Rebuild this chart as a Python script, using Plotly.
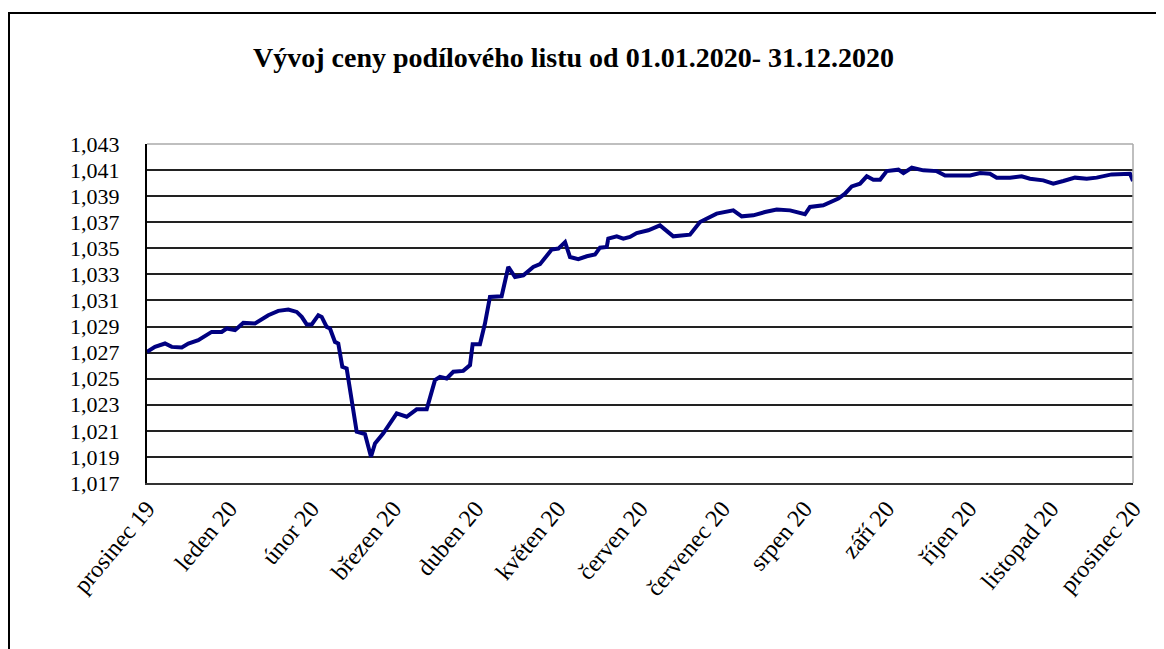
import plotly.graph_objects as go

# month position (0 = prosinec 19, 12 = prosinec 20) and unit price
months = [
    0.0, 0.097, 0.219, 0.301, 0.423, 0.503, 0.624, 0.787, 0.909, 0.970,
    1.071, 1.172, 1.314, 1.476, 1.598, 1.720, 1.822, 1.883, 1.944, 2.005,
    2.085, 2.126, 2.187, 2.227, 2.288, 2.328, 2.377, 2.430, 2.552, 2.653,
    2.726, 2.775, 2.876, 2.978, 3.039, 3.160, 3.282, 3.404, 3.505, 3.566,
    3.647, 3.728, 3.849, 3.931, 3.963, 4.052, 4.113, 4.174, 4.316, 4.397,
    4.479, 4.580, 4.701, 4.783, 4.925, 5.006, 5.088, 5.148, 5.249, 5.352,
    5.452, 5.513, 5.595, 5.614, 5.717, 5.797, 5.878, 5.960, 6.101, 6.243,
    6.405, 6.608, 6.730, 6.933, 7.135, 7.238, 7.379, 7.521, 7.664, 7.826,
    8.008, 8.069, 8.231, 8.414, 8.495, 8.577, 8.678, 8.760, 8.840, 8.922,
    9.003, 9.145, 9.206, 9.308, 9.449, 9.612, 9.713, 9.856, 10.018, 10.140,
    10.259, 10.341, 10.503, 10.645, 10.746, 10.908, 11.030, 11.152, 11.294, 11.437,
    11.558, 11.740, 11.882, 11.964, 12.0,
]
prices = [
    1.02706, 1.02744, 1.02770, 1.02744, 1.02740, 1.02770, 1.02795, 1.02859, 1.02859, 1.02885,
    1.02872, 1.02928, 1.02923, 1.02987, 1.03020, 1.03031, 1.03012, 1.02974, 1.02916, 1.02916,
    1.02987, 1.02974, 1.02897, 1.02885, 1.02782, 1.02770, 1.02591, 1.02579, 1.02093, 1.02075,
    1.01901, 1.02004, 1.02081, 1.02183, 1.02234, 1.02208, 1.02265, 1.02265, 1.02489, 1.02514,
    1.02502, 1.02553, 1.02560, 1.02604, 1.02765, 1.02765, 1.02923, 1.03127, 1.03132, 1.03357,
    1.03280, 1.03293, 1.03357, 1.03378, 1.03490, 1.03498, 1.03548, 1.03433, 1.03416, 1.03439,
    1.03452, 1.03505, 1.03510, 1.03574, 1.03592, 1.03574, 1.03587, 1.03617, 1.03638, 1.03676,
    1.03592, 1.03605, 1.03702, 1.03766, 1.03791, 1.03745, 1.03753, 1.03778, 1.03797, 1.03791,
    1.03761, 1.03817, 1.03830, 1.03881, 1.03919, 1.03975, 1.03996, 1.04052, 1.04026, 1.04026,
    1.04092, 1.04103, 1.04077, 1.04118, 1.04098, 1.04092, 1.04059, 1.04059, 1.04059, 1.04077,
    1.04072, 1.04042, 1.04042, 1.04052, 1.04034, 1.04021, 1.03996, 1.04016, 1.04042, 1.04034,
    1.04042, 1.04067, 1.04067, 1.04072, 1.04016,
]
month_labels = [
    "prosinec 19", "leden 20", "únor 20", "březen 20", "duben 20", "květen 20",
    "červen 20", "červenec 20", "srpen 20", "září 20", "říjen 20", "listopad 20",
    "prosinec 20",
]
y_ticks = [1.017 + 0.002 * i for i in range(14)]

fig = go.Figure(
    go.Scatter(x=months, y=prices, mode="lines",
               line=dict(color="#000080", width=4), showlegend=False)
)

# page body has an 8px margin, so the figure is 8px smaller than the window
fig.update_layout(
    width=1156, height=641,
    margin=dict(l=139, r=31, t=136, b=166),
    paper_bgcolor="white", plot_bgcolor="white",
    separators=", ",
    font=dict(family="Liberation Serif", color="black", size=22),
    title=dict(text="<b>Vývoj ceny podílového listu od 01.01.2020- 31.12.2020</b>",
               x=565.5 / 1156, xanchor="center", y=1 - 49 / 641, yanchor="middle",
               yref="container", font=dict(size=28, family="Liberation Serif")),
    xaxis=dict(range=[0, 12], tickvals=list(range(13)), ticktext=month_labels,
               tickangle=-50, showgrid=False, zeroline=False,
               showline=True, linecolor="#333", linewidth=2, ticks="",
               tickfont=dict(size=24)),
    yaxis=dict(range=[1.017, 1.043], tickvals=y_ticks, tickformat=".3f",
               showgrid=True, gridcolor="#222", gridwidth=1.5, zeroline=False,
               showline=True, linecolor="black", linewidth=2, ticks="",
               ticklabelstandoff=21, tickfont=dict(size=22)),
    shapes=[
        dict(type="line", xref="paper", yref="paper", x0=0, x1=1, y0=1, y1=1,
             line=dict(color="#aaa", width=1.5), layer="above"),
        dict(type="line", xref="paper", yref="paper", x0=1, x1=1, y0=0, y1=1,
             line=dict(color="#aaa", width=1.5), layer="above"),
        dict(type="rect", xref="paper", yref="paper",
             x0=(1 - 139) / 986, x1=(1200 - 139) / 986,
             y0=(475 - 700) / 339, y1=(475 - 5) / 339,
             line=dict(color="black", width=2), layer="above"),
    ],
)

fig.write_html("out.html")
